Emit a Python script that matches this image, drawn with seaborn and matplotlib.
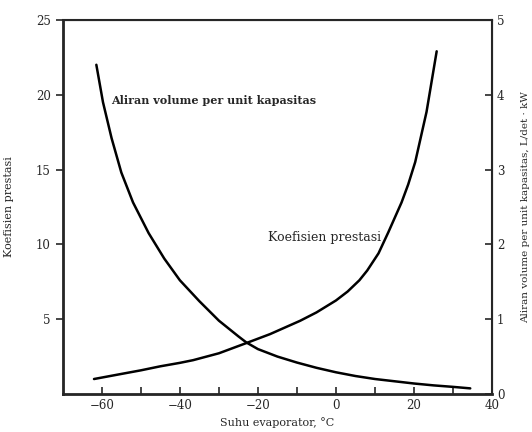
import matplotlib
matplotlib.use("Agg")
import matplotlib.pyplot as plt
import seaborn as sns
import pandas as pd

# Data
suhu_cop = [-62, -55.4, -50, -45, -40, -36.6, -30, -23.3, -16.9, -9.2, -5, 0, 3, 6, 8, 10.9,
            13.4, 16.8, 18.5, 20.3, 23.2, 25.8]
cop = [1.0, 1.32, 1.58, 1.85, 2.08, 2.26, 2.72, 3.37, 4.0, 4.89, 5.45, 6.25, 6.85, 7.6, 8.25, 9.4,
       10.8, 12.8, 14.0, 15.5, 18.85, 22.9]

suhu_vol = [-61.4, -59.7, -57.5, -55, -52, -48, -44, -40, -35, -30, -25, -23, -20, -15, -10, -5,
            0, 5, 10, 15, 20, 25, 30, 34.4]
vol = [4.40, 3.90, 3.42, 2.96, 2.56, 2.15, 1.81, 1.52, 1.24, 0.98, 0.77, 0.69, 0.60, 0.50, 0.42, 0.35,
       0.29, 0.24, 0.20, 0.17, 0.14, 0.115, 0.095, 0.075]

df_cop = pd.DataFrame({"suhu": suhu_cop, "cop": cop})
df_vol = pd.DataFrame({"suhu": suhu_vol, "vol": vol})

sns.set_style("ticks")
plt.rcParams["font.family"] = ["DejaVu Serif"]

fig = plt.figure(figsize=(5.32, 4.32), dpi=100)
ax = fig.add_axes([0.118, 0.088, 0.807, 0.866])
ax2 = ax.twinx()

sns.lineplot(data=df_cop, x="suhu", y="cop", ax=ax, color="black", linewidth=1.8)
sns.lineplot(data=df_vol, x="suhu", y="vol", ax=ax2, color="black", linewidth=1.8)

ax.set_xlim(-70, 40)
ax.set_ylim(0, 25)
ax2.set_ylim(0, 5)

ax.set_xticks([-60, -40, -20, 0, 20, 40])
ax.set_xticks(range(-60, 40, 10), minor=True)
ax.set_yticks([5, 10, 15, 20, 25])
ax2.set_yticks([0, 1, 2, 3, 4, 5])

ax.tick_params(axis="x", which="both", direction="in", length=5, width=1.2, labelsize=8.5)
ax.tick_params(axis="y", direction="out", length=5, width=1.2, labelsize=8.5)
ax2.tick_params(axis="y", direction="in", length=5, width=1.2, labelsize=8.5)

for side in ["left", "bottom"]:
    ax.spines[side].set_linewidth(2)
ax.spines["top"].set_linewidth(1.5)
ax2.spines["right"].set_linewidth(1.5)

ax.set_xlabel("Suhu evaporator, °C", fontsize=8)
ax.set_ylabel("Koefisien prestasi", fontsize=8, labelpad=16)
ax2.set_ylabel("Aliran volume per unit kapasitas, L/det · kW", fontsize=7.5, labelpad=12)

ax.text(-57.5, 19.6, "Aliran volume per unit kapasitas", fontsize=8, fontweight="bold", va="center")
ax.text(-17.4, 10.45, "Koefisien prestasi", fontsize=9, va="center")

fig.savefig("out.png", dpi=100)
